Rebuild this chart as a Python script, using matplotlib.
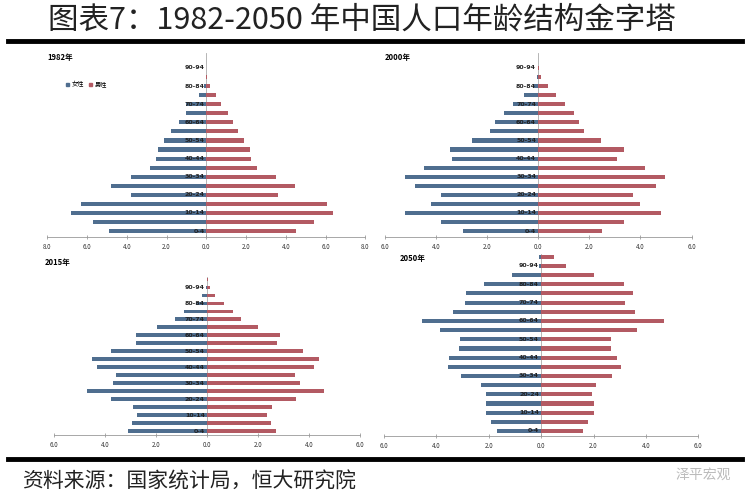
import numpy as np
import matplotlib.pyplot as plt
from matplotlib.ticker import FuncFormatter
from matplotlib.patches import Patch

plt.rcParams['font.family'] = ['Noto Sans CJK SC', 'DejaVu Sans']

# 年龄组（自下而上）
ages = ["0-4", "5-9", "10-14", "15-19", "20-24", "25-29", "30-34", "35-39",
        "40-44", "45-49", "50-54", "55-59", "60-64", "65-69", "70-74",
        "75-79", "80-84", "85-89", "90-94", "95+"]

# 各年份占比（%），女性在左，男性在右
female_1982 = [4.9, 5.7, 6.8, 6.3, 3.8, 4.8, 3.8, 2.85, 2.55, 2.45,
               2.15, 1.75, 1.35, 1.0, 1.0, 0.35, 0.1, 0.03, 0.01, 0.0]
male_1982 = [4.5, 5.4, 6.4, 6.1, 3.6, 4.45, 3.5, 2.55, 2.25, 2.2,
             1.9, 1.6, 1.35, 1.1, 0.75, 0.5, 0.2, 0.03, 0.01, 0.0]

female_2000 = [2.95, 3.8, 5.2, 4.2, 3.8, 4.8, 5.2, 4.45, 3.35, 3.45,
               2.6, 1.9, 1.7, 1.35, 1.0, 0.55, 0.2, 0.05, 0.01, 0.0]
male_2000 = [2.5, 3.35, 4.8, 4.0, 3.7, 4.6, 4.95, 4.2, 3.1, 3.35,
             2.45, 1.8, 1.6, 1.4, 1.05, 0.7, 0.4, 0.1, 0.02, 0.0]

female_2015 = [3.1, 2.95, 2.75, 2.9, 3.75, 4.7, 3.7, 3.55, 4.3, 4.5,
               3.75, 2.8, 2.8, 1.95, 1.25, 0.9, 0.45, 0.2, 0.02, 0.0]
male_2015 = [2.7, 2.5, 2.35, 2.55, 3.5, 4.6, 3.65, 3.45, 4.2, 4.4,
             3.75, 2.75, 2.85, 2.0, 1.35, 1.0, 0.65, 0.3, 0.1, 0.02]

female_2050 = [1.7, 1.9, 2.1, 2.1, 2.1, 2.3, 3.05, 3.55, 3.5, 3.15,
               3.1, 3.85, 4.55, 3.35, 2.9, 2.85, 2.2, 1.1, 0.1, 0.1]
male_2050 = [1.6, 1.8, 2.0, 2.0, 1.95, 2.1, 2.7, 3.05, 2.9, 2.65,
             2.65, 3.65, 4.7, 3.6, 3.2, 3.5, 3.15, 2.0, 0.95, 0.5]

BLUE = "#4f6e8f"
RED = "#b35a63"

fig = plt.figure(figsize=(7.5, 5), dpi=100)

# 面板：年份、数据、位置、x范围、y范围、年份标签位置
panels = [
    ("1982年", female_1982, male_1982, [0.063, 0.526, 0.424, 0.368], 8, (-0.65, 19.65), (0.0, 1.0)),
    ("2000年", female_2000, male_2000, [0.513, 0.526, 0.409, 0.368], 6, (-0.65, 19.65), (0.0, 1.0)),
    ("2015年", female_2015, male_2015, [0.072, 0.130, 0.408, 0.316], 6, (-0.5, 19.3), (-0.03, 1.12)),
    ("2050年", female_2050, male_2050, [0.512, 0.128, 0.419, 0.364], 6, (-0.55, 19.3), (0.05, 1.0)),
]

y = np.arange(len(ages))
for year, fem, mal, pos, lim, ylim, lab in panels:
    ax = fig.add_axes(pos)
    ax.barh(y, -np.array(fem), height=0.45, color=BLUE, zorder=2)
    ax.barh(y, mal, height=0.45, color=RED, zorder=2)
    ax.axvline(0, color="#aaaaaa", lw=0.6, zorder=1)
    ax.set_xlim(-lim, lim)
    ax.set_ylim(*ylim)
    ax.set_xticks(np.arange(-lim, lim + 1, 2))
    ax.xaxis.set_major_formatter(FuncFormatter(lambda v, p: f"{abs(v):.1f}"))
    ax.tick_params(axis="x", labelsize=4.5, length=2.5, width=0.5,
                   direction="inout", colors="#888888", labelcolor="#333333", pad=3)
    ax.set_yticks([])
    for s in ["top", "left", "right"]:
        ax.spines[s].set_visible(False)
    ax.spines["bottom"].set_color("#999999")
    ax.spines["bottom"].set_linewidth(0.6)
    # 年龄标签，每隔一组
    for i in range(0, len(ages), 2):
        ax.text(-0.08, i, ages[i], ha="right", va="center", fontsize=4.5,
                fontweight="bold", color="#222222", zorder=3,
                family=["DejaVu Sans"])
    ax.text(lab[0], lab[1], year, transform=ax.transAxes,
            fontsize=5.5, fontweight="bold", ha="left", va="top")
    if year == "1982年":
        ax.legend(handles=[Patch(color=BLUE, label="女性"), Patch(color=RED, label="男性")],
                  loc="upper left", bbox_to_anchor=(0.04, 0.88), ncol=2, fontsize=4.5,
                  frameon=False, handlelength=0.6, handleheight=0.6, columnspacing=0.8,
                  handletextpad=0.3)

# 标题与分隔线
fig.text(0.483, 0.96, "图表7：1982-2050 年中国人口年龄结构金字塔", ha="center", va="center",
         fontsize=22, color="#222222", fontweight="light")
fig.add_artist(plt.Line2D([0.011, 0.989], [0.919, 0.919], color="black", lw=3.5))
fig.add_artist(plt.Line2D([0.011, 0.989], [0.082, 0.082], color="black", lw=3.5))

# 资料来源
fig.text(0.03, 0.037, "资料来源：国家统计局，恒大研究院", ha="left", va="center",
         fontsize=15, color="#222222", style="italic", fontweight="light")
fig.text(0.975, 0.05, "泽平宏观", ha="right", va="center", fontsize=10, color="#bbbbbb")

fig.savefig("out.png", dpi=100)
